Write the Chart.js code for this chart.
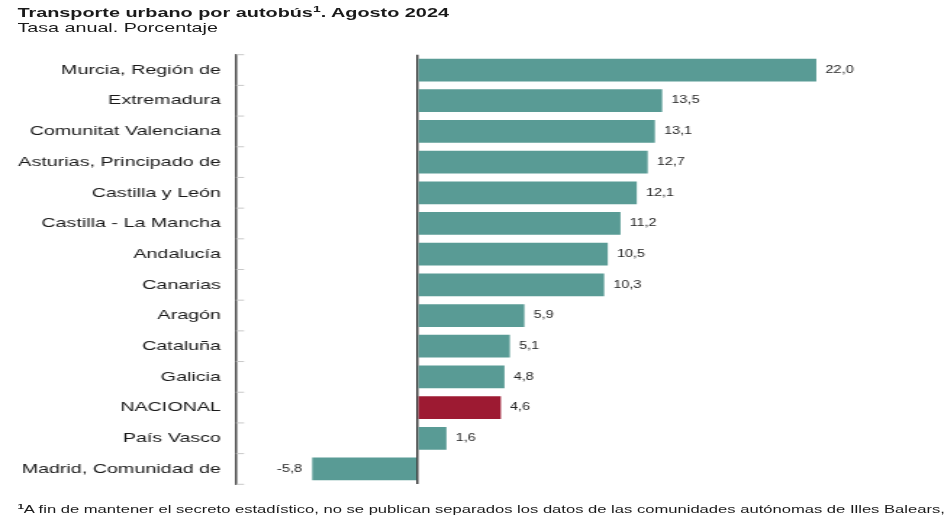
<!DOCTYPE html>
<html lang="es">
<head>
<meta charset="utf-8">
<script src="https://cdn.jsdelivr.net/npm/chart.js@4/dist/chart.umd.min.js"></script>
<style>
  html, body { margin: 0; padding: 0; background: #fff; overflow: hidden; }
  body { width: 950px; height: 518px; }
  /* the reference is horizontally stretched, so everything is drawn narrow and widened */
  #wrap { position: absolute; left: 0; top: 0; width: 655px; height: 518px; transform: scaleX(1.45); transform-origin: 0 0; font-family: 'Liberation Sans', Arial, sans-serif; color: #1a1a1a; }
  .title { position: absolute; left: 12px; top: 5px; font-size: 13.7px; font-weight: bold; line-height: 16px; white-space: nowrap; }
  .sub { position: absolute; left: 12px; top: 20px; font-size: 13.6px; line-height: 16px; white-space: nowrap; }
  .note { position: absolute; left: 12px; top: 503px; font-size: 11.45px; line-height: 13px; white-space: nowrap; }
  sup { font-size: 0.7em; line-height: 0; vertical-align: 0.5em; font-weight: bold; }
  .chart-box { position: absolute; left: 0; top: 0; width: 655px; height: 518px; }
</style>
</head>
<body>
<div id="wrap">
  <div class="chart-box"><canvas id="bus-chart"></canvas></div>
  <div class="title">Transporte urbano por autobús<sup>1</sup>. Agosto 2024</div>
  <div class="sub">Tasa anual. Porcentaje</div>
  <div class="note"><sup>1</sup>A fin de mantener el secreto estadístico, no se publican separados los datos de las comunidades autónomas de Illes Balears,</div>
</div>
<script>
// Tasa anual transporte urbano por autobús, por comunidad autónoma
const regions = ['Murcia, Región de', 'Extremadura', 'Comunitat Valenciana', 'Asturias, Principado de',
  'Castilla y León', 'Castilla - La Mancha', 'Andalucía', 'Canarias', 'Aragón', 'Cataluña',
  'Galicia', 'NACIONAL', 'País Vasco', 'Madrid, Comunidad de'];
const rates = [22.0, 13.5, 13.1, 12.7, 12.1, 11.2, 10.5, 10.3, 5.9, 5.1, 4.8, 4.6, 1.6, -5.8];
const highlight = 'NACIONAL';

const TEAL = '#599b95';
const RED = '#9d1a32';
const fmt = v => v.toFixed(1).replace('.', ',');

// value labels next to each bar end
const valueLabels = {
  id: 'valueLabels',
  afterDatasetsDraw(chart) {
    const { ctx } = chart;
    const meta = chart.getDatasetMeta(0);
    ctx.save();
    ctx.font = "10px 'Liberation Sans', Arial, sans-serif";
    ctx.fillStyle = '#262626';
    ctx.textBaseline = 'middle';
    meta.data.forEach((bar, i) => {
      const v = rates[i];
      if (v >= 0) { ctx.textAlign = 'left'; ctx.fillText(fmt(v), bar.x + 6.3, bar.y); }
      else { ctx.textAlign = 'right'; ctx.fillText(fmt(v), bar.x - 7, bar.y); }
    });
    ctx.restore();
  }
};

// short light ticks on the inner side of the category axis, at band edges
const bandTicks = {
  id: 'bandTicks',
  afterDatasetsDraw(chart) {
    const { ctx, chartArea } = chart;
    const y = chart.scales.y;
    const band = y.getPixelForValue(1) - y.getPixelForValue(0);
    ctx.save();
    ctx.strokeStyle = '#c8c8c8';
    ctx.lineWidth = 1;
    for (let i = 0; i <= regions.length; i++) {
      const p = y.getPixelForValue(0) + (i - 0.5) * band;
      ctx.beginPath();
      ctx.moveTo(chartArea.left, p);
      ctx.lineTo(chartArea.left + 5.5, p);
      ctx.stroke();
    }
    ctx.restore();
  }
};

new Chart(document.getElementById('bus-chart'), {
  type: 'bar',
  data: {
    labels: regions,
    datasets: [{
      data: rates,
      backgroundColor: regions.map(r => r === highlight ? RED : TEAL),
      barPercentage: 0.74,
      categoryPercentage: 1,
    }],
  },
  options: {
    indexAxis: 'y',
    responsive: true,
    maintainAspectRatio: false,
    animation: false,
    layout: { padding: { top: 54.7, bottom: 33.7, left: 0, right: 17 } },
    plugins: { legend: { display: false }, tooltip: { enabled: false } },
    scales: {
      x: {
        min: -10, max: 28,
        z: 1,
        ticks: { display: false, stepSize: 2 },
        border: { display: false },
        grid: {
          drawTicks: false,
          color: c => c.tick && c.tick.value === 0 ? '#3a3a3a' : 'rgba(0,0,0,0)',
          lineWidth: 1.5,
        },
        afterFit: s => { s.height = 0; },
      },
      y: {
        grid: { display: false, drawTicks: false },
        border: { display: true, color: '#4a4a4a', width: 1.5 },
        ticks: { color: '#1a1a1a', padding: 10.4, font: { family: "'Liberation Sans', Arial, sans-serif", size: 13.6 } },
        afterFit: s => { s.width = 162.8; },
      },
    },
  },
  plugins: [valueLabels, bandTicks],
});
</script>
</body>
</html>
